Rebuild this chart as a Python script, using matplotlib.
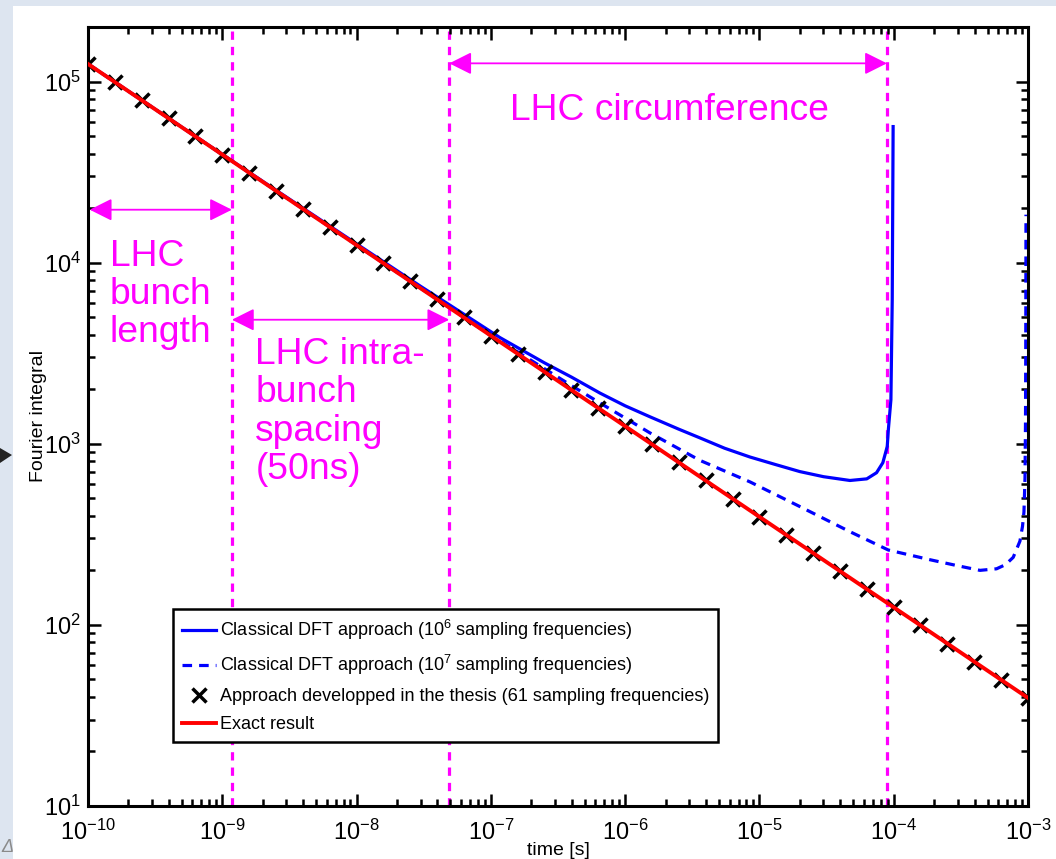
import matplotlib
matplotlib.use("Agg")
import matplotlib.pyplot as plt
from matplotlib.patches import Rectangle, Polygon

plt.rcParams['font.family'] = ['Liberation Sans', 'DejaVu Sans']
plt.rcParams['mathtext.fontset'] = 'custom'
plt.rcParams['mathtext.rm'] = 'Liberation Sans'
plt.rcParams['mathtext.it'] = 'Liberation Sans'
plt.rcParams['mathtext.bf'] = 'Liberation Sans'

# exact result (straight line in log-log)
exact_t = [1e-10, 1e-9, 1e-8, 1e-7, 1e-6, 1e-5, 1e-4, 1e-3]
exact_v = [125000, 39500, 12500, 3950, 1250, 395, 125, 39.5]

# approach developped in the thesis (crosses)
cross_t = [1.00e-10, 1.58e-10, 2.51e-10, 3.98e-10, 6.31e-10,
           1.00e-9, 1.58e-9, 2.51e-9, 3.98e-9, 6.31e-9,
           1.00e-8, 1.58e-8, 2.51e-8, 3.98e-8, 6.31e-8,
           1.00e-7, 1.58e-7, 2.51e-7, 3.98e-7, 6.31e-7,
           1.00e-6, 1.58e-6, 2.51e-6, 3.98e-6, 6.31e-6,
           1.00e-5, 1.58e-5, 2.51e-5, 3.98e-5, 6.31e-5,
           1.00e-4, 1.58e-4, 2.51e-4, 3.98e-4, 6.31e-4,
           1.00e-3]
cross_v = [125000, 99300, 78900, 62700, 49800,
           39500, 31400, 24900, 19800, 15700,
           12500, 9930, 7890, 6270, 4980,
           3950, 3140, 2490, 1980, 1570,
           1250, 993, 789, 627, 498,
           395, 314, 249, 198, 157,
           125, 99.3, 78.9, 62.7, 49.8,
           39.5]

# classical DFT, 1e6 sampling frequencies
dft6_t = [1e-10, 1e-9, 1e-8, 3e-8, 5e-8, 1.17e-7, 2.5e-7, 4e-7, 6.49e-7, 1e-6,
          1.53e-6, 2.5e-6, 3.6e-6, 5.5e-6, 8.5e-6, 1.3e-5, 2e-5, 3e-5, 4.72e-5,
          6.3e-5, 7.45e-5, 8.3e-5, 8.95e-5, 9.12e-5, 9.53e-5, 9.75e-5, 9.9e-5]
dft6_v = [125000, 39600, 12700, 7400, 5800, 3855, 2800, 2330, 1905, 1620,
          1409, 1205, 1078, 945, 845, 770, 702, 658, 627,
          640, 692, 786, 966, 1194, 1750, 6250, 56400]

# classical DFT, 1e7 sampling frequencies
dft7_t = [1e-10, 1e-8, 1e-7, 1.17e-7, 2.5e-7, 4e-7, 6.49e-7, 1e-6, 1.53e-6,
          3.6e-6, 8.5e-6, 2e-5, 4.72e-5, 9.12e-5, 1.86e-4, 3e-4, 4.39e-4,
          5.83e-4, 6.8e-4, 7.76e-4, 8.71e-4, 9.1e-4, 9.33e-4, 9.5e-4, 9.58e-4,
          9.62e-4, 9.66e-4]
dft7_v = [125000, 12500, 3960, 3700, 2600, 2090, 1680, 1387, 1148,
          810, 616, 450, 327, 259, 229, 212, 200,
          204, 215, 236, 290, 350, 420, 650, 1300,
          3000, 18400]

# markers on the time axis
bunch_length = 1.18e-9
bunch_spacing = 4.9e-8
circumference = 8.9e-5

fig = plt.figure(figsize=(10.56, 8.59), dpi=100)
fig.patch.set_facecolor('#dde5f0')
fig.patches.append(Rectangle((13 / 1056, 0), 1, 1 - 6 / 859, transform=fig.transFigure,
                             facecolor='white', edgecolor='none', zorder=-2))
fig.patches.append(Polygon([[0, 1 - 448 / 859], [12 / 1056, 1 - 455 / 859], [0, 1 - 463 / 859]],
                           closed=True, transform=fig.transFigure, facecolor='#222222',
                           edgecolor='none', zorder=-1))
fig.text(0.001, 0.003, 'Δ', color='#8a8a8a', fontsize=13, style='italic',
         ha='left', va='bottom')

ax = fig.add_axes([88 / 1056, 1 - 806 / 859, 940 / 1056, 779 / 859])
ax.set_zorder(5)
ax.set_facecolor('white')

mag = '#ff00ff'
for xv in [bunch_length, bunch_spacing, circumference]:
    ax.axvline(xv, color=mag, lw=2.3, dashes=(2.6, 2.2), zorder=1)

ax.plot(dft6_t, dft6_v, color='#0000ff', lw=2.3,
        label='Classical DFT approach (10$^6$ sampling frequencies)', zorder=2)
ax.plot(dft7_t, dft7_v, color='#0000ff', lw=2.3, dashes=(3, 2.2),
        label='Classical DFT approach (10$^7$ sampling frequencies)', zorder=2)
ax.plot(cross_t, cross_v, ls='none', marker='x', color='black', ms=10, mew=2.5,
        label='Approach developped in the thesis (61 sampling frequencies)', zorder=3)
ax.plot(exact_t, exact_v, color='#ff0000', lw=2.8, label='Exact result', zorder=4)

ax.set_xscale('log')
ax.set_yscale('log')
ax.set_xlim(1e-10, 1e-3)
ax.set_ylim(10, 2e5)

# annotations
arrow = dict(arrowstyle='<|-|>', color=mag, lw=1.3, mutation_scale=34, shrinkA=0, shrinkB=0)
ax.annotate('', xy=(1.03e-10, 1.96e4), xytext=(bunch_length, 1.96e4), arrowprops=arrow)
ax.annotate('', xy=(bunch_length, 4840), xytext=(bunch_spacing, 4840), arrowprops=arrow)
ax.annotate('', xy=(bunch_spacing, 1.26e5), xytext=(circumference, 1.26e5), arrowprops=arrow)

ax.text(0.449, 0.881, 'LHC circumference', transform=ax.transAxes, color=mag,
        fontsize=26.8, va='baseline', ha='left')
ax.text(0.0234, 0.728, 'LHC\nbunch\nlength', transform=ax.transAxes, color=mag,
        fontsize=26.8, va='top', ha='left', linespacing=1.12)
ax.text(0.178, 0.602, 'LHC intra-\nbunch\nspacing\n(50ns)', transform=ax.transAxes,
        color=mag, fontsize=26.8, va='top', ha='left', linespacing=1.12)

for s in ax.spines.values():
    s.set_linewidth(2.2)
ax.tick_params(which='both', direction='in', top=True, right=True, width=1.8)
ax.tick_params(which='major', length=9, labelsize=17)
ax.tick_params(axis='x', which='major', pad=10)
ax.tick_params(axis='y', which='major', pad=5)
ax.tick_params(which='minor', length=5)
ax.set_xticks([1e-10, 1e-9, 1e-8, 1e-7, 1e-6, 1e-5, 1e-4, 1e-3])
ax.set_yticks([10, 100, 1000, 1e4, 1e5])

ax.set_xlabel('time [s]', fontsize=14, labelpad=-2)
ax.set_ylabel('Fourier integral', fontsize=14, labelpad=-2)

leg = ax.legend(loc='lower left', bbox_to_anchor=(0.0904, 0.082), borderaxespad=0,
                fontsize=13, frameon=True, fancybox=False, framealpha=1,
                handlelength=1.9, handletextpad=0.2, labelspacing=0.6,
                borderpad=0.5)
leg.get_frame().set_edgecolor('black')
leg.get_frame().set_linewidth(1.8)

fig.savefig('out.png', dpi=100, facecolor=fig.get_facecolor())
